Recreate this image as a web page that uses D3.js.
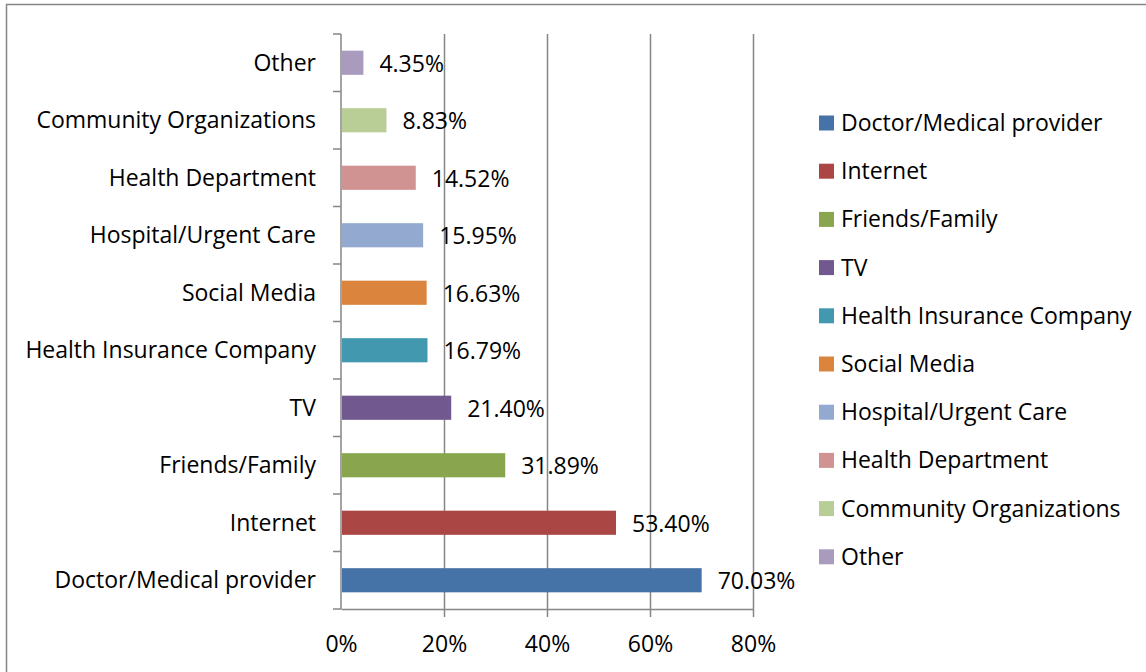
<!DOCTYPE html>
<html>
<head>
<meta charset="utf-8">
<script src="https://cdn.jsdelivr.net/npm/d3@7"></script>
<style>
  html, body { margin: 0; padding: 0; background: #fff; }
  svg { display: block; }
  text { font-family: "Open Sans", Lato, sans-serif; fill: #000; }
</style>
</head>
<body>
<svg id="chart" width="1146" height="672"></svg>
<script>
// Sources of health information, share of respondents
const categories = [
  "Doctor/Medical provider", "Internet", "Friends/Family", "TV",
  "Health Insurance Company", "Social Media", "Hospital/Urgent Care",
  "Health Department", "Community Organizations", "Other"
];
const values = [70.03, 53.40, 31.89, 21.40, 16.79, 16.63, 15.95, 14.52, 8.83, 4.35];
const colors = [
  "#4572A7", "#AA4643", "#89A54E", "#71588F", "#4198AF",
  "#DB843D", "#93A9CF", "#D19392", "#B9CD96", "#A99BBD"
];
const xTicks = [0, 20, 40, 60, 80];

const svg = d3.select("#chart");
const fontSize = 23;
const grey = "#868686";

// chart frame
svg.append("rect")
  .attr("x", 6.5).attr("y", 4.5)
  .attr("width", 1150).attr("height", 680)
  .attr("fill", "#fff").attr("stroke", grey).attr("stroke-width", 1.5);

const plot = { left: 341, right: 753, top: 34, bottom: 609 };

const x = d3.scaleLinear().domain([0, 80]).range([plot.left, plot.right]);
// first category at the bottom
const y = d3.scaleBand()
  .domain(categories.slice().reverse())
  .range([plot.top, plot.bottom])
  .paddingInner(0.58).paddingOuter(0.29);

// vertical gridlines with tick marks below the axis
const xAxis = d3.axisBottom(x).tickValues(xTicks)
  .tickSize(-(plot.bottom - plot.top)).tickSizeOuter(0)
  .tickFormat(d => d + "%");
const gx = svg.append("g").attr("transform", `translate(0,${plot.bottom})`).call(xAxis);
gx.select(".domain").attr("stroke", grey).attr("stroke-width", 1.5);
gx.selectAll(".tick line").attr("stroke", grey).attr("stroke-width", 1.5);
gx.selectAll(".tick").append("line")
  .attr("y1", 0).attr("y2", 8).attr("stroke", grey).attr("stroke-width", 1.5);
gx.selectAll(".tick text")
  .attr("y", 43).attr("dy", 0)
  .style("font-size", fontSize + "px")
  .style("font-family", "'Open Sans', sans-serif")
  .attr("fill", "#000");
gx.selectAll(".tick:first-of-type line").attr("stroke", "none");

// category axis
const band = y.step();
const catBounds = d3.range(categories.length + 1).map(i => plot.top + i * band);
const gy = svg.append("g");
gy.append("line")
  .attr("x1", plot.left).attr("x2", plot.left)
  .attr("y1", plot.top).attr("y2", plot.bottom)
  .attr("stroke", grey).attr("stroke-width", 1.5);
gy.selectAll("line.tk").data(catBounds).join("line").attr("class", "tk")
  .attr("x1", plot.left - 8).attr("x2", plot.left)
  .attr("y1", d => d).attr("y2", d => d)
  .attr("stroke", grey).attr("stroke-width", 1.5);
gy.selectAll("text").data(categories).join("text")
  .attr("x", plot.left - 25)
  .attr("y", d => y(d) + y.bandwidth() / 2)
  .attr("dy", "0.35em")
  .attr("text-anchor", "end")
  .style("font-size", fontSize + "px")
  .text(d => d);

// bars
svg.append("g").selectAll("rect").data(categories).join("rect")
  .attr("x", x(0) + 1)
  .attr("y", d => y(d))
  .attr("width", (d, i) => x(values[i]) - x(0) - 1)
  .attr("height", y.bandwidth())
  .attr("fill", (d, i) => colors[i]);

// value labels
svg.append("g").selectAll("text").data(categories).join("text")
  .attr("x", (d, i) => x(values[i]) + 16)
  .attr("y", d => y(d) + y.bandwidth() / 2 + 1)
  .attr("dy", "0.35em")
  .style("font-size", fontSize + "px")
  .text((d, i) => values[i].toFixed(2) + "%");

// legend
const legend = svg.append("g").attr("transform", "translate(819,123)");
const item = legend.selectAll("g").data(categories).join("g")
  .attr("transform", (d, i) => `translate(0,${i * 48.2})`);
item.append("rect")
  .attr("x", 0).attr("y", -7.5).attr("width", 15).attr("height", 15)
  .attr("fill", (d, i) => colors[i]);
item.append("text")
  .attr("x", 22).attr("y", 0).attr("dy", "0.35em")
  .style("font-size", fontSize + "px")
  .text(d => d);
</script>
</body>
</html>
